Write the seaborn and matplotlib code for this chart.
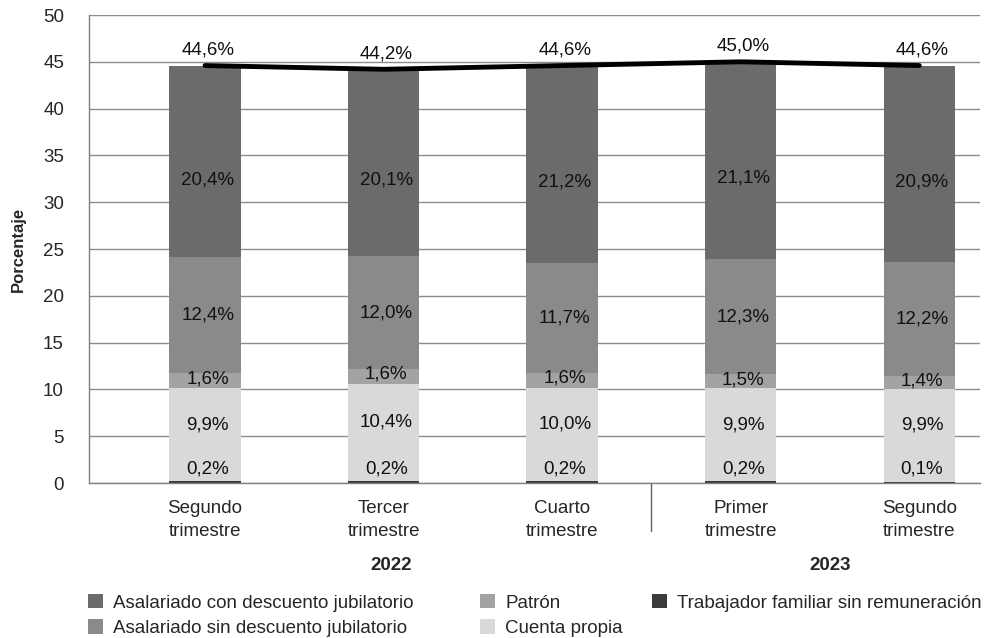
import numpy as np
import matplotlib.pyplot as plt
import matplotlib.transforms as mtransforms
from matplotlib.patches import Patch
import seaborn as sns
import pandas as pd

# --- Data ---
PERIODS = ['2022 T2', '2022 T3', '2022 T4', '2023 T1', '2023 T2']
TICK_LABELS = ['Segundo\ntrimestre', 'Tercer\ntrimestre', 'Cuarto\ntrimestre',
               'Primer\ntrimestre', 'Segundo\ntrimestre']
YEARS = ['2022', '2023']

trab_familiar = [0.2, 0.2, 0.2, 0.2, 0.1]
cuenta_propia = [9.9, 10.4, 10.0, 9.9, 9.9]
patron = [1.6, 1.6, 1.6, 1.5, 1.4]
asal_sin = [12.4, 12.0, 11.7, 12.3, 12.2]
asal_con = [20.4, 20.1, 21.2, 21.1, 20.9]
total = [44.6, 44.2, 44.6, 45.0, 44.6]

# series from bottom to top
SERIES = [
    ('Trabajador familiar sin remuneración', trab_familiar),
    ('Cuenta propia', cuenta_propia),
    ('Patrón', patron),
    ('Asalariado sin descuento jubilatorio', asal_sin),
    ('Asalariado con descuento jubilatorio', asal_con),
]
COLORS = {
    'Trabajador familiar sin remuneración': '#3b3b3b',
    'Cuenta propia': '#d9d9d9',
    'Patrón': '#a3a3a3',
    'Asalariado sin descuento jubilatorio': '#8a8a8a',
    'Asalariado con descuento jubilatorio': '#6b6b6b',
}
# where the value label sits, relative to the segment centre (Excel-like)
LABEL_SHIFT = {
    'Trabajador familiar sin remuneración': 1.4,
    'Cuenta propia': 1.1,
    'Patrón': 0.2,
    'Asalariado sin descuento jubilatorio': 0.0,
    'Asalariado con descuento jubilatorio': -1.9,
}
FS = 13.5


def fmt(v):
    return f'{v:.1f}'.replace('.', ',') + '%'


sns.set_style('white')
plt.rcParams['font.family'] = ['Liberation Sans', 'DejaVu Sans']

fig = plt.figure(figsize=(9.95, 6.38), dpi=100)
ax = fig.add_axes([89 / 995, 155 / 638, (980 - 89) / 995, (483 - 15) / 638])

# stacked bars: draw cumulative sums from the top series down
df = pd.DataFrame({name: vals for name, vals in SERIES}, index=PERIODS)
cum = df.cumsum(axis=1)
for name, _ in reversed(SERIES):
    sns.barplot(x=PERIODS, y=cum[name].values, order=PERIODS, color=COLORS[name],
                saturation=1, width=0.40, ax=ax, zorder=2, edgecolor='none')

# value labels
bottoms = np.zeros(len(PERIODS))
for name, vals in SERIES:
    vals = np.array(vals)
    centers = bottoms + vals / 2 + LABEL_SHIFT[name]
    for i, v in enumerate(vals):
        ax.text(i + 0.015, centers[i], fmt(v), ha='center', va='center',
                fontsize=FS, color='#111111', zorder=5)
    bottoms += vals

# total line
sns.lineplot(x=np.arange(len(PERIODS)), y=total, color='black', linewidth=3.5,
             ax=ax, zorder=4, solid_capstyle='round')
for i, v in enumerate(total):
    ax.text(i + 0.015, v + 0.75, fmt(v), ha='center', va='bottom', fontsize=FS,
            color='#111111', zorder=5)

ax.set_ylim(0, 50)
ax.set_xlim(-0.65, 4.34)
ax.set_yticks(range(0, 51, 5))
ax.yaxis.grid(True, color='#8c8c8c', linewidth=1.0, zorder=0)
ax.set_axisbelow(True)
ax.tick_params(axis='y', length=0, labelsize=FS, pad=18)

ax.set_xticks(range(len(PERIODS)))
ax.set_xticklabels(TICK_LABELS, fontsize=FS, linespacing=1.45)
ax.tick_params(axis='x', length=0, pad=12)
ax.set_xticks([0.5, 1.5, 3.5], minor=True)
ax.tick_params(axis='x', which='minor', length=5, color='#808080', width=1)
ax.set_xlabel('')
ax.set_ylabel('Porcentaje', fontsize=12, fontweight='bold')
ax.yaxis.set_label_coords(-0.071, 0.5)

for side in ['top', 'right']:
    ax.spines[side].set_visible(False)
for side in ['left', 'bottom']:
    ax.spines[side].set_color('#808080')
    ax.spines[side].set_linewidth(1.0)

# long separator between the two years
trans = mtransforms.blended_transform_factory(ax.transData, ax.transAxes)
ax.plot([2.5, 2.5], [0, -48 / 468], transform=trans, color='#606060',
        linewidth=1.0, clip_on=False)

# year labels
ax.text(1.04, -82 / 468, YEARS[0], transform=trans, ha='center', va='center',
        fontsize=FS, fontweight='bold')
ax.text(3.5, -82 / 468, YEARS[1], transform=trans, ha='center', va='center',
        fontsize=FS, fontweight='bold')

# legend: three columns placed separately (column-major order as in the reference)
legend_cols = [
    (88, ['Asalariado con descuento jubilatorio', 'Asalariado sin descuento jubilatorio']),
    (480, ['Patrón', 'Cuenta propia']),
    (652, ['Trabajador familiar sin remuneración']),
]
for x_px, names in legend_cols:
    handles = [Patch(facecolor=COLORS[n], edgecolor='none') for n in names]
    fig.legend(handles, names, loc='upper left', bbox_to_anchor=(x_px / 995, 44 / 638),
               frameon=False, fontsize=FS, handlelength=0.8, handleheight=0.8,
               handletextpad=0.55, labelspacing=0.4, borderpad=0, borderaxespad=0)

fig.savefig('out.png', dpi=100)
